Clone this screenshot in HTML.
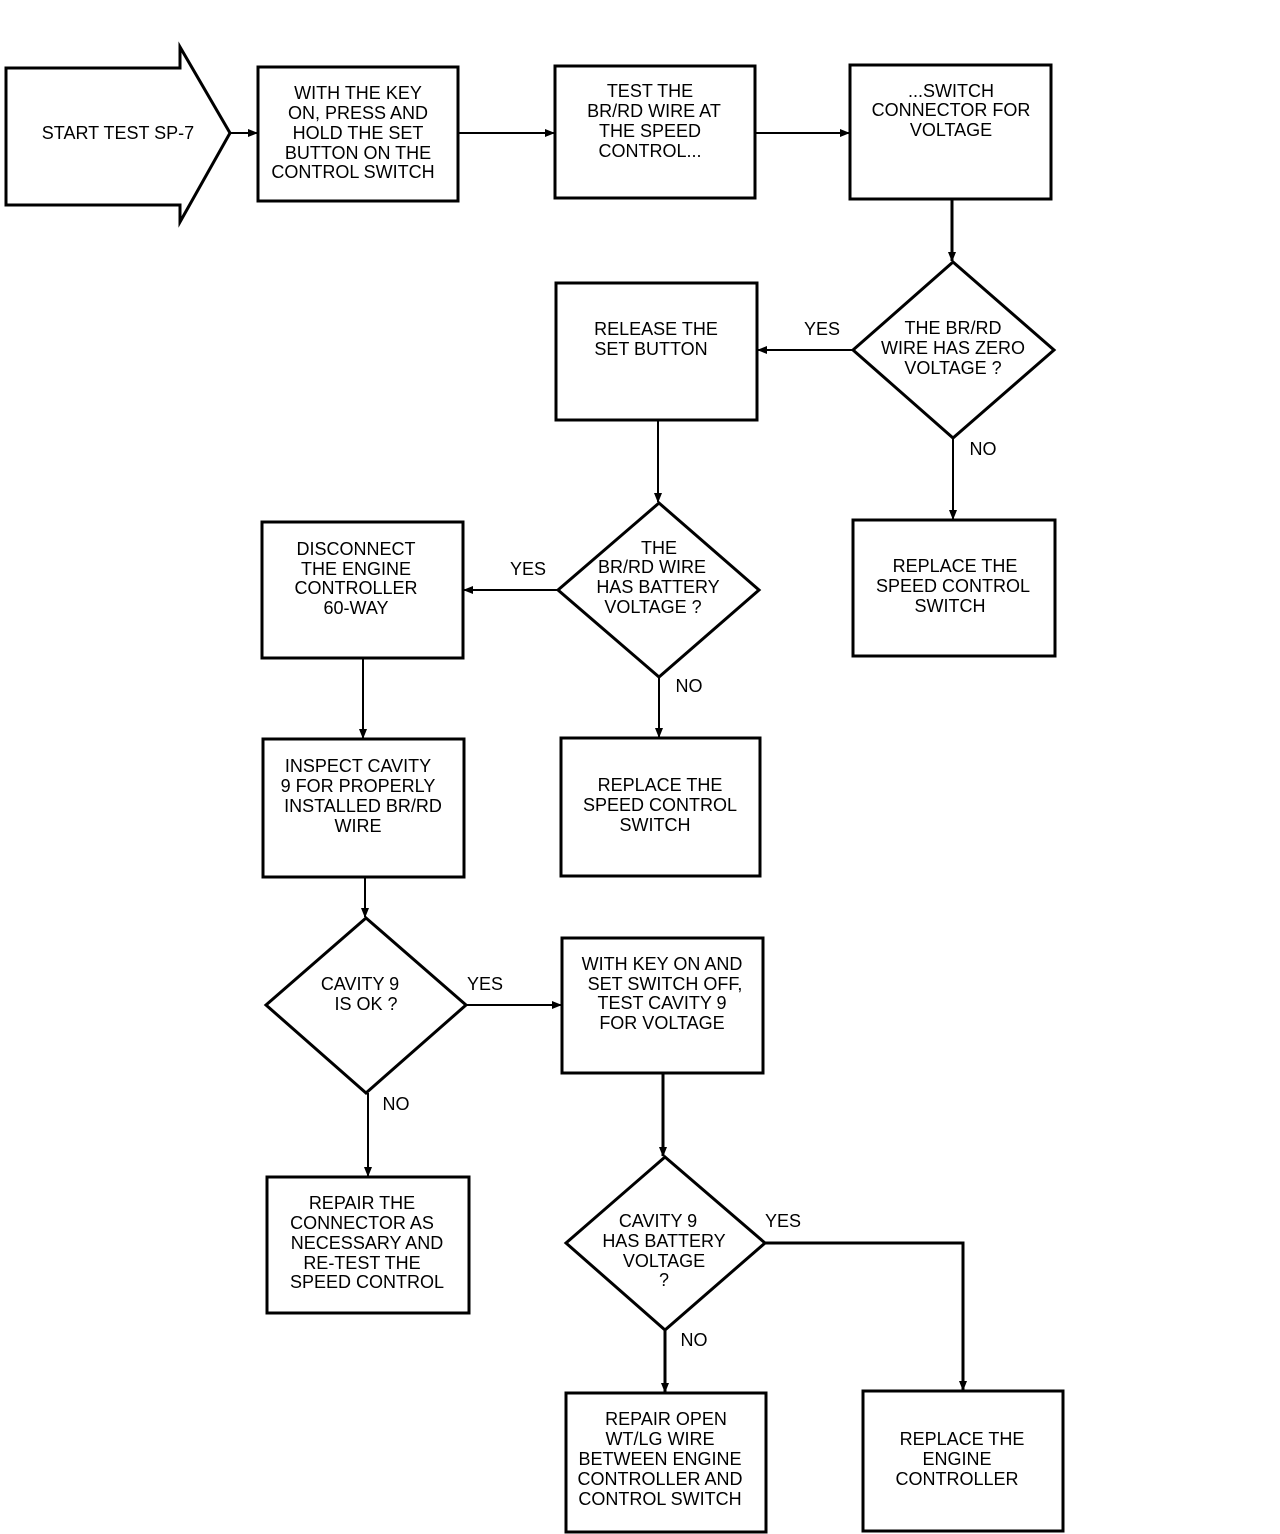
<!DOCTYPE html>
<html><head><meta charset="utf-8"><style>
html,body{margin:0;padding:0;background:#fff;}
svg{display:block;}
text{font-family:"Liberation Sans",sans-serif;font-size:18px;fill:#000;text-anchor:middle;dominant-baseline:middle;}
.b{fill:none;stroke:#000;stroke-width:3;}
.l{fill:none;stroke:#000;stroke-width:2;}
</style></head><body>
<svg width="1280" height="1534" viewBox="0 0 1280 1534" xmlns="http://www.w3.org/2000/svg">
<defs><marker id="a" markerWidth="10" markerHeight="8" refX="9" refY="4" orient="auto" markerUnits="userSpaceOnUse"><path d="M0,0 L10,4 L0,8 z" fill="#000"/></marker></defs>

<polygon class="b" points="6,68 180,68 180,47 230,133 180,222 180,205 6,205"/>
<text x="118" y="134">START TEST SP-7</text>
<line class="l" x1="230" y1="133" x2="257" y2="133" marker-end="url(#a)"/>

<rect class="b" x="258" y="67" width="200" height="134"/>
<text x="358" y="94">WITH THE KEY</text><text x="358" y="114">ON, PRESS AND</text><text x="358" y="134">HOLD THE SET</text><text x="358" y="154">BUTTON ON THE</text><text x="353" y="173">CONTROL SWITCH</text>
<line class="l" x1="458" y1="133" x2="554" y2="133" marker-end="url(#a)"/>

<rect class="b" x="555" y="66" width="200" height="132"/>
<text x="650" y="92">TEST THE</text><text x="654" y="112">BR/RD WIRE AT</text><text x="650" y="132">THE SPEED</text><text x="650" y="152">CONTROL...</text>
<line class="l" x1="755" y1="133" x2="849" y2="133" marker-end="url(#a)"/>

<rect class="b" x="850" y="65" width="201" height="134"/>
<text x="951" y="92">...SWITCH</text><text x="951" y="111">CONNECTOR FOR</text><text x="951" y="131">VOLTAGE</text>
<line class="b" x1="952" y1="199" x2="952" y2="261" marker-end="url(#a)"/>

<polygon class="b" points="953,262 1054,350 953,438 853,350"/>
<text x="953" y="329">THE BR/RD</text><text x="953" y="349">WIRE HAS ZERO</text><text x="953" y="369">VOLTAGE ?</text>
<line class="l" x1="853" y1="350" x2="758" y2="350" marker-end="url(#a)"/>
<text x="822" y="330">YES</text>

<rect class="b" x="556" y="283" width="201" height="137"/>
<text x="656" y="330">RELEASE THE</text><text x="651" y="350">SET BUTTON</text>

<line class="l" x1="953" y1="438" x2="953" y2="519" marker-end="url(#a)"/>
<text x="983" y="450">NO</text>
<rect class="b" x="853" y="520" width="202" height="136"/>
<text x="955" y="567">REPLACE THE</text><text x="953" y="587">SPEED CONTROL</text><text x="950" y="607">SWITCH</text>

<line class="l" x1="658" y1="420" x2="658" y2="502" marker-end="url(#a)"/>
<polygon class="b" points="659,503 759,590 659,677 558,590"/>
<text x="659" y="549">THE</text><text x="652" y="568">BR/RD WIRE</text><text x="658" y="588">HAS BATTERY</text><text x="653" y="608">VOLTAGE ?</text>
<line class="l" x1="558" y1="590" x2="464" y2="590" marker-end="url(#a)"/>
<text x="528" y="570">YES</text>

<rect class="b" x="262" y="522" width="201" height="136"/>
<text x="356" y="550">DISCONNECT</text><text x="356" y="570">THE ENGINE</text><text x="356" y="589">CONTROLLER</text><text x="356" y="609">60-WAY</text>

<line class="l" x1="659" y1="677" x2="659" y2="737" marker-end="url(#a)"/>
<text x="689" y="687">NO</text>
<rect class="b" x="561" y="738" width="199" height="138"/>
<text x="660" y="786">REPLACE THE</text><text x="660" y="806">SPEED CONTROL</text><text x="655" y="826">SWITCH</text>

<line class="l" x1="363" y1="658" x2="363" y2="738" marker-end="url(#a)"/>
<rect class="b" x="263" y="739" width="201" height="138"/>
<text x="358" y="767">INSPECT CAVITY</text><text x="358" y="787">9 FOR PROPERLY</text><text x="363" y="807">INSTALLED BR/RD</text><text x="358" y="827">WIRE</text>

<line class="l" x1="365" y1="877" x2="365" y2="917" marker-end="url(#a)"/>
<polygon class="b" points="366,918 466,1005 366,1093 266,1005"/>
<text x="360" y="985">CAVITY 9</text><text x="366" y="1005">IS OK ?</text>
<line class="l" x1="466" y1="1005" x2="561" y2="1005" marker-end="url(#a)"/>
<text x="485" y="985">YES</text>

<rect class="b" x="562" y="938" width="201" height="135"/>
<text x="662" y="965">WITH KEY ON AND</text><text x="665" y="985">SET SWITCH OFF,</text><text x="662" y="1004">TEST CAVITY 9</text><text x="662" y="1024">FOR VOLTAGE</text>

<line class="l" x1="368" y1="1093" x2="368" y2="1176" marker-end="url(#a)"/>
<text x="396" y="1105">NO</text>
<rect class="b" x="267" y="1177" width="202" height="136"/>
<text x="362" y="1204">REPAIR THE</text><text x="362" y="1224">CONNECTOR AS</text><text x="367" y="1244">NECESSARY AND</text><text x="362" y="1264">RE-TEST THE</text><text x="367" y="1283">SPEED CONTROL</text>

<line class="b" x1="663" y1="1073" x2="663" y2="1156" marker-end="url(#a)"/>
<polygon class="b" points="665,1157 765,1243 665,1330 566,1243"/>
<text x="658" y="1222">CAVITY 9</text><text x="664" y="1242">HAS BATTERY</text><text x="664" y="1262">VOLTAGE</text><text x="664" y="1281">?</text>
<polyline class="b" points="765,1243 963,1243 963,1390" marker-end="url(#a)"/>
<text x="783" y="1222">YES</text>
<line class="b" x1="665" y1="1330" x2="665" y2="1392" marker-end="url(#a)"/>
<text x="694" y="1341">NO</text>

<rect class="b" x="566" y="1393" width="200" height="139"/>
<text x="666" y="1420">REPAIR OPEN</text><text x="660" y="1440">WT/LG WIRE</text><text x="660" y="1460">BETWEEN ENGINE</text><text x="660" y="1480">CONTROLLER AND</text><text x="660" y="1500">CONTROL SWITCH</text>

<rect class="b" x="863" y="1391" width="200" height="140"/>
<text x="962" y="1440">REPLACE THE</text><text x="957" y="1460">ENGINE</text><text x="957" y="1480">CONTROLLER</text>
</svg>
</body></html>
